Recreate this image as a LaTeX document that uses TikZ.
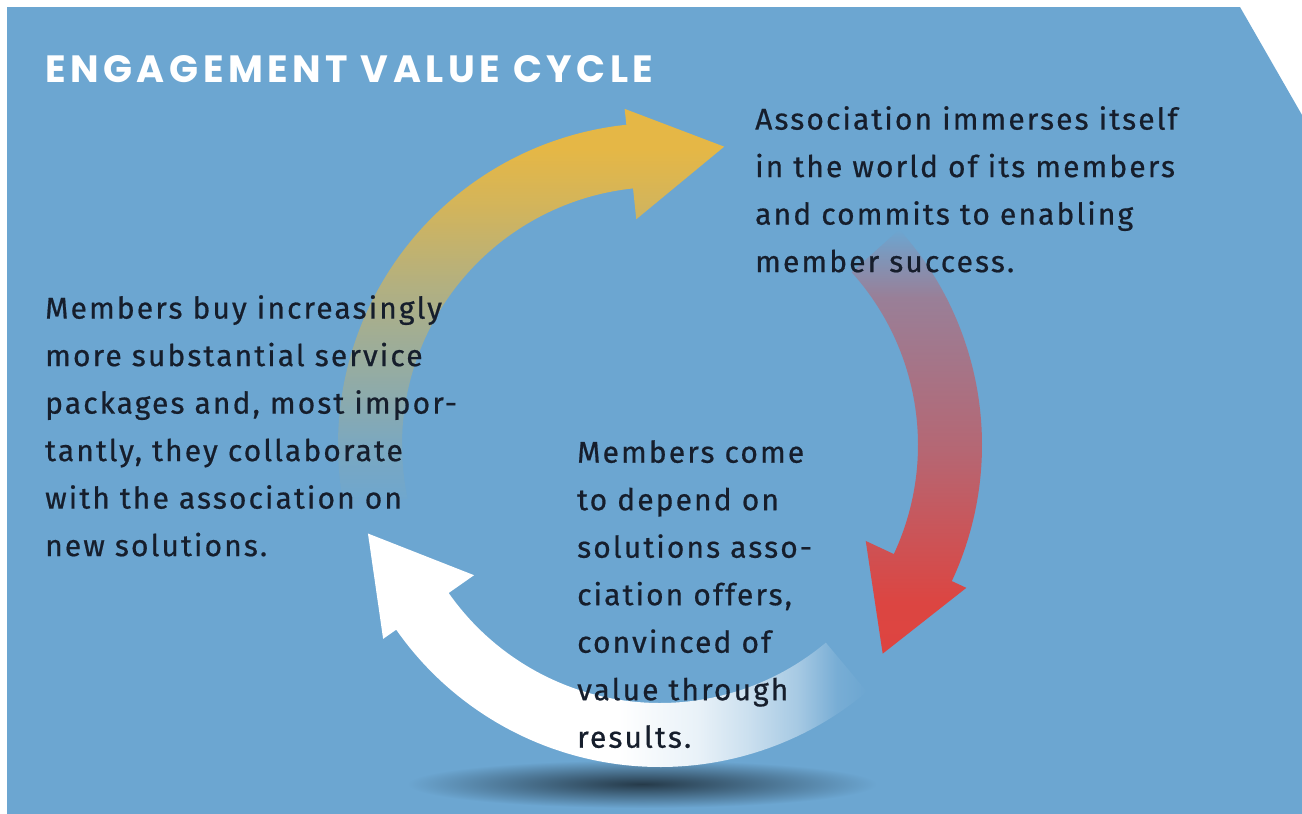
\documentclass[tikz,border=0pt]{standalone}
\usepackage{fontspec}
\setmainfont{Fira Sans}[LetterSpace=7,FakeBold=0.6]
\newfontfamily\titlefont{Poppins}[LetterSpace=12]
\usetikzlibrary{calc}

\definecolor{panelblue}{RGB}{108,166,209}
\definecolor{goldarrow}{RGB}{229,183,70}
\definecolor{redarrow}{RGB}{226,64,58}
\definecolor{inktext}{RGB}{22,30,44}

% fades along the ring (path box runs from 25bp to 75bp)
\pgfdeclareverticalshading{goldfade}{100bp}{color(0bp)=(panelblue); color(25bp)=(panelblue);
  color(33bp)=(goldarrow!12!panelblue); color(43bp)=(goldarrow!35!panelblue);
  color(53bp)=(goldarrow!58!panelblue); color(63bp)=(goldarrow!85!panelblue);
  color(70bp)=(goldarrow); color(100bp)=(goldarrow)}
\pgfdeclareverticalshading{redfade}{100bp}{color(0bp)=(redarrow); color(31bp)=(redarrow!95!panelblue);
  color(49bp)=(redarrow!62!panelblue); color(67bp)=(redarrow!38!panelblue);
  color(72bp)=(redarrow!15!panelblue); color(75bp)=(panelblue); color(100bp)=(panelblue)}
\pgfdeclarehorizontalshading{whitefade}{100bp}{color(0bp)=(white); color(50bp)=(white);
  color(58bp)=(white!85!panelblue); color(63bp)=(white!65!panelblue);
  color(68bp)=(white!40!panelblue); color(72bp)=(white!8!panelblue);
  color(75bp)=(panelblue); color(100bp)=(panelblue)}

% one bent arrow of the ring: tail angle, head angle, shading
\newcommand{\ringarrow}[3]{%
  \shade[shading=#3] ($(C)+(#1:258)$) arc[start angle=#1, end angle=#2, radius=258]
    -- ($(C)+(#2:227)$) -- ($(C)+(#2:290)+(#2+90:95)$) -- ($(C)+(#2:338)$)
    -- ($(C)+(#2:322)$) arc[start angle=#2, end angle=#1, radius=322] -- cycle;}

\begin{document}
\begin{tikzpicture}[x=1pt,y=-1pt,
    caption/.style={anchor=north west,inner sep=0,align=left,text=inktext,
      font=\fontsize{30}{47.5}\selectfont}]

    \useasboundingbox (0,0) rectangle (1302,814);
    \fill[white] (0,0) rectangle (1302,814);
    \fill[panelblue] (7,7) -- (1240,7) -- (1302,115) -- (1302,814) -- (7,814) -- cycle;
    \coordinate (C) at (660,445);

    % shadow under the ring
    \shade[inner color=black!65!panelblue,outer color=panelblue] (642,784) ellipse[x radius=235,y radius=24];

    \ringarrow{50}{145}{whitefade}
    \ringarrow{168}{264}{goldfade}
    \ringarrow{318}{385}{redfade}

    \node[font=\titlefont\bfseries\fontsize{38}{40}\selectfont,text=white,anchor=base west,inner sep=0] (title) at (45,82) {ENGAGEMENT VALUE CYCLE};
    \node[caption] (immerse) at (755,106) {Association immerses itself\\in the world of its members\\and commits to enabling\\member success.};
    \node[caption] (collab) at (45,295) {Members buy increasingly\\more substantial service\\packages and, most impor-\\tantly, they collaborate\\with the association on\\new solutions.};
    \node[caption] (depend) at (577,440) {Members come\\to depend on\\solutions asso-\\ciation offers,\\convinced of\\value through\\results.};

  \end{tikzpicture}
\end{document}
